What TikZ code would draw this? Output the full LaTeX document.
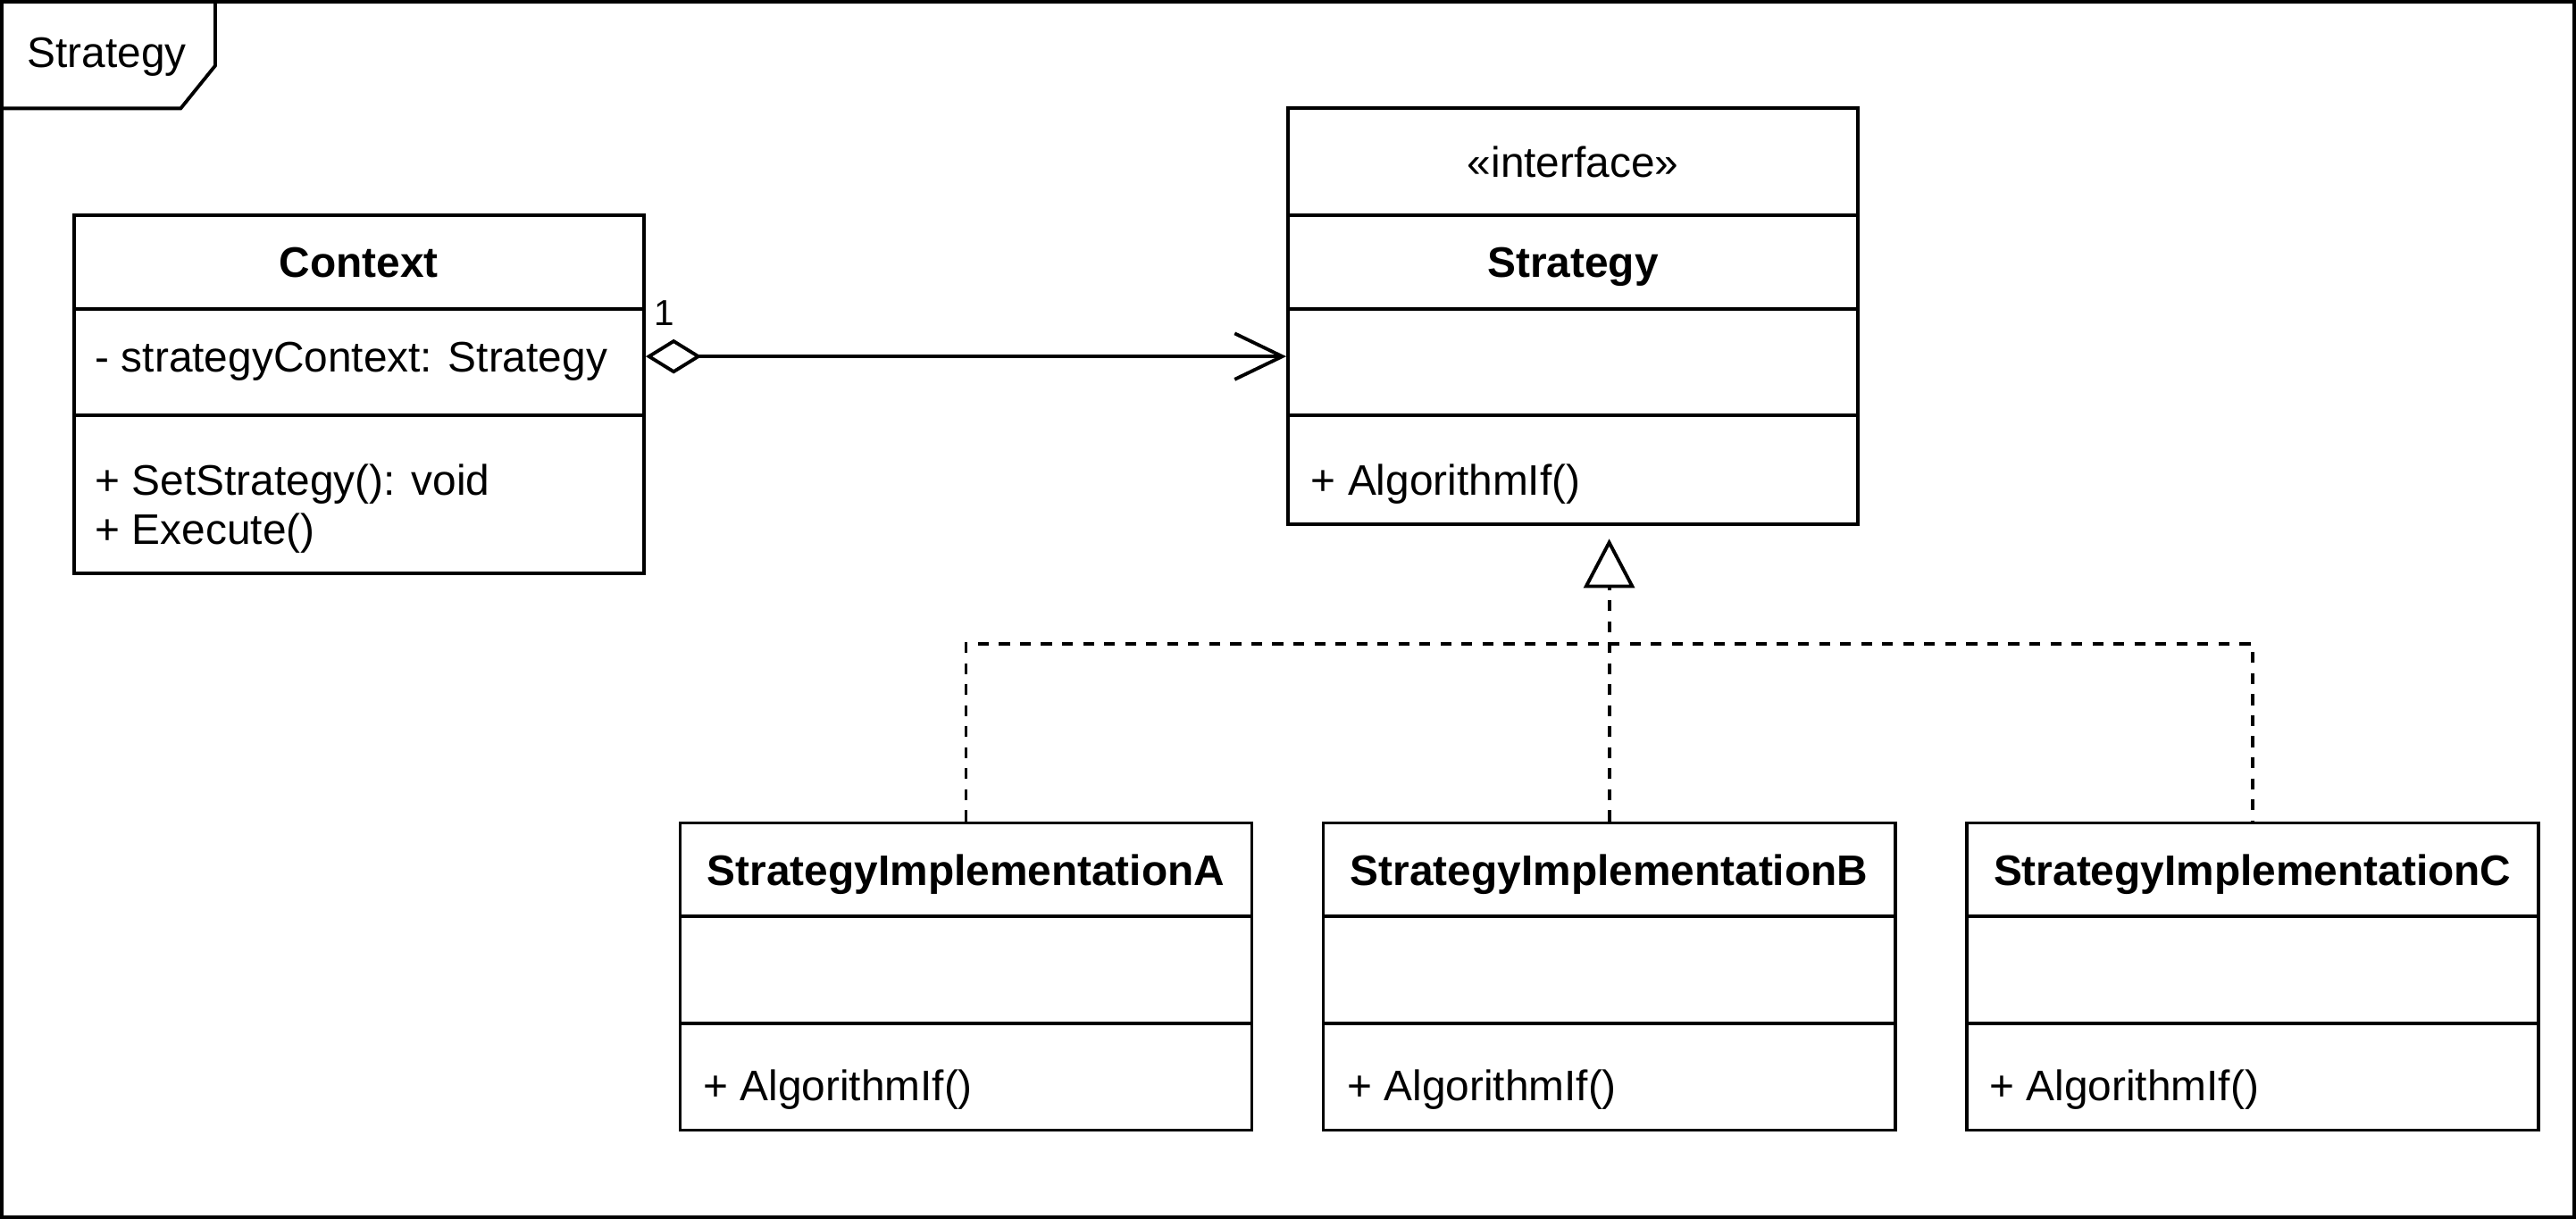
\documentclass[tikz,border=0pt]{standalone}
\usepackage{fontspec}
\setmainfont{Liberation Sans}
\usetikzlibrary{arrows.meta}

\begin{document}
\begin{tikzpicture}[x=0.5pt, y=-0.5pt, line width=1.05pt,
    font=\fontsize{13pt}{15pt}\selectfont,
    part/.style={draw=black, rectangle, inner sep=0pt, text height=9.3pt, text depth=0pt},
    member/.style={anchor=west, inner sep=0pt, text height=9.3pt, text depth=0pt},
    dashline/.style={dash pattern=on 3.3pt off 3.1pt},
    aggr/.style={{Diamond[open, length=17pt, width=10.5pt]}-{Straight Barb[length=14.5pt, width=14pt]}},
    realize/.style={dashline, -{Triangle[open, length=15pt, width=15.5pt]}}]
      \useasboundingbox (0,0) rectangle (1568,742);

      % frame with its tab
      \draw (1,1) rectangle (1567,741);
      \draw (1,66) -- (110,66) -- (131,40) -- (131,1);
      \node [member, anchor=center, name=frametitle] at (65,32) {Strategy};

      % Context
      \node [part, minimum width=173.5pt, minimum height=28.5pt, name=ctx-head] at (218.5,159.5) {\textbf{Context}};
      \node [part, minimum width=173.5pt, minimum height=32.5pt, name=ctx-attr] at (218.5,220.5) {};
      \node [part, minimum width=173.5pt, minimum height=48pt, name=ctx-ops] at (218.5,301) {};
      \node [member, name=ctx-a1] at (57,217) {- strategyContext: Strategy};
      \node [member, name=ctx-o1] at (57,292) {+ SetStrategy(): void};
      \node [member, name=ctx-o2] at (57,322) {+ Execute()};

      % interface Strategy
      \node [part, minimum width=173.5pt, minimum height=32.5pt, name=if-stereo] at (957.5,98.5) {«interface»};
      \node [part, minimum width=173.5pt, minimum height=28.5pt, name=if-head] at (957.5,159.5) {\textbf{Strategy}};
      \node [part, minimum width=173.5pt, minimum height=32.5pt, name=if-attr] at (957.5,220.5) {};
      \node [part, minimum width=173.5pt, minimum height=33pt, name=if-ops] at (957.5,286) {};
      \node [member, name=if-o1] at (797,292) {+ AlgorithmIf()};

      % implementations
      \node [part, minimum width=174pt, minimum height=28.5pt, name=implA-head] at (588,529.5) {\textbf{StrategyImplementationA}};
      \node [part, minimum width=174pt, minimum height=32.5pt, name=implA-attr] at (588,590.5) {};
      \node [part, minimum width=174pt, minimum height=32.5pt, name=implA-ops] at (588,655.5) {};
      \node [member, name=implA-o1] at (427,661) {+ AlgorithmIf()};

      \node [part, minimum width=174pt, minimum height=28.5pt, name=implB-head] at (979.5,529.5) {\textbf{StrategyImplementationB}};
      \node [part, minimum width=174pt, minimum height=32.5pt, name=implB-attr] at (979.5,590.5) {};
      \node [part, minimum width=174pt, minimum height=32.5pt, name=implB-ops] at (979.5,655.5) {};
      \node [member, name=implB-o1] at (819,661) {+ AlgorithmIf()};

      \node [part, minimum width=174pt, minimum height=28.5pt, name=implC-head] at (1371,529.5) {\textbf{StrategyImplementationC}};
      \node [part, minimum width=174pt, minimum height=32.5pt, name=implC-attr] at (1371,590.5) {};
      \node [part, minimum width=174pt, minimum height=32.5pt, name=implC-ops] at (1371,655.5) {};
      \node [member, name=implC-o1] at (1210,661) {+ AlgorithmIf()};

      % aggregation
      \draw [aggr] ([yshift=1.75pt]ctx-attr.east) -- ([yshift=1.75pt]if-attr.west);
      \node [member, font=\fontsize{11pt}{13pt}\selectfont, name=mult] at (397,189) {1};

      % realization
      \coordinate (tip) at (979.5,328);
      \coordinate (bus) at (979.5,392);
      \draw [realize] (implB-head.north) -- (tip);
      \draw [dashline] (implA-head.north) |- (bus) -| (implC-head.north);

    \end{tikzpicture}
\end{document}
